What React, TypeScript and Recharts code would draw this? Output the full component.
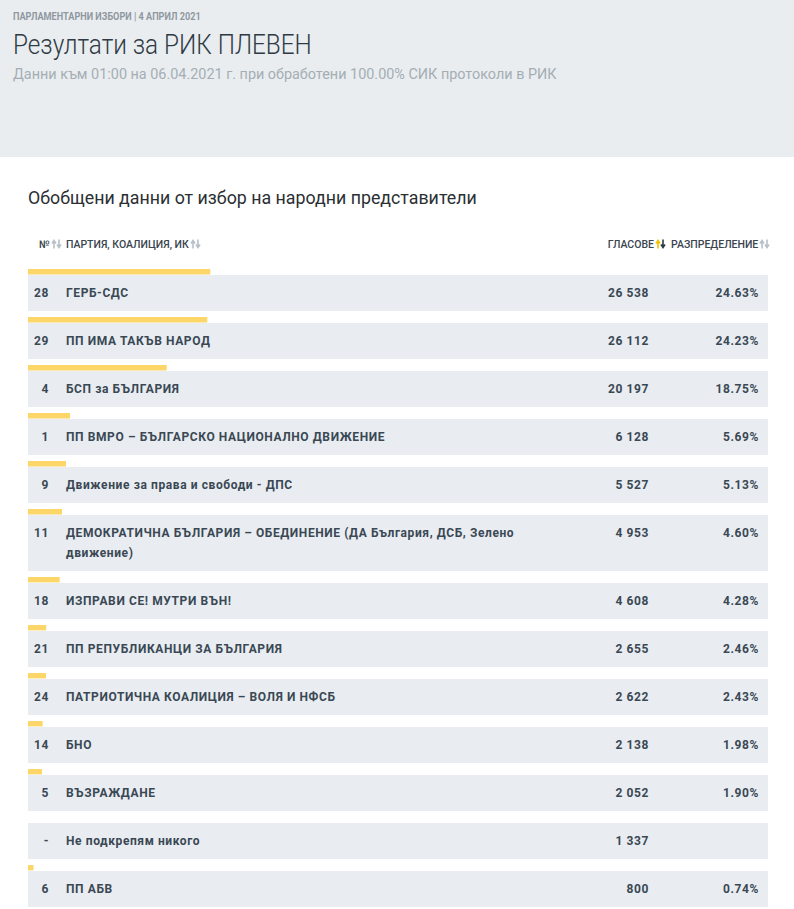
import { BarChart, Bar, XAxis, YAxis } from 'recharts';

const partyNumbers = ['28', '29', '4', '1', '9', '11', '18', '21', '24', '14', '5', '-', '6'];
const partyNames = [
  'ГЕРБ-СДС',
  'ПП ИМА ТАКЪВ НАРОД',
  'БСП за БЪЛГАРИЯ',
  'ПП ВМРО – БЪЛГАРСКО НАЦИОНАЛНО ДВИЖЕНИЕ',
  'Движение за права и свободи - ДПС',
  'ДЕМОКРАТИЧНА БЪЛГАРИЯ – ОБЕДИНЕНИЕ (ДА България, ДСБ, Зелено движение)',
  'ИЗПРАВИ СЕ! МУТРИ ВЪН!',
  'ПП РЕПУБЛИКАНЦИ ЗА БЪЛГАРИЯ',
  'ПАТРИОТИЧНА КОАЛИЦИЯ – ВОЛЯ И НФСБ',
  'БНО',
  'ВЪЗРАЖДАНЕ',
  'Не подкрепям никого',
  'ПП АБВ',
];
const votes = [26538, 26112, 20197, 6128, 5527, 4953, 4608, 2655, 2622, 2138, 2052, 1337, 800];
const shares: (number | null)[] = [24.63, 24.23, 18.75, 5.69, 5.13, 4.6, 4.28, 2.46, 2.43, 1.98, 1.9, null, 0.74];

const YELLOW = '#fcd669';
const BAND = '#e9edf1';
const TEXT = '#3a4854';

const fmtVotes = (n: number) => n.toString().replace(/\B(?=(\d{3})+(?!\d))/g, ' ');

// small sort icon next to a column header
function SortArrows({ active }: { active?: boolean }) {
  const up = active ? '#f2c200' : '#b9c0c7';
  const down = active ? '#2f3a44' : '#b9c0c7';
  return (
    <svg width={11} height={10} style={{ marginLeft: 1, verticalAlign: -1 }}>
      <path d="M3 9.5V2.5M1 4.5L3 1.5L5 4.5" stroke={up} strokeWidth={1.6} fill="none" />
      <path d="M8 0.5V7.5M6 5.5L8 8.5L10 5.5" stroke={down} strokeWidth={1.6} fill="none" />
    </svg>
  );
}

function ShareBar({ name, share }: { name: string; share: number | null }) {
  return (
    <BarChart
      width={740}
      height={6}
      layout="vertical"
      data={[{ name, share }]}
      margin={{ top: 0, right: 0, bottom: 0, left: 0 }}
      style={{ display: 'block' }}
    >
      <XAxis type="number" domain={[0, 100]} hide />
      <YAxis type="category" dataKey="name" hide />
      <Bar dataKey="share" fill={YELLOW} barSize={6} isAnimationActive={false} />
    </BarChart>
  );
}

export default function App() {
  return (
    <div
      style={{
        position: 'relative',
        width: 794,
        height: 909,
        overflow: 'hidden',
        background: '#fff',
        fontFamily: 'Roboto, "Noto Sans", sans-serif',
        color: TEXT,
      }}
    >
      <style>{'body{margin:0}'}</style>

      <div style={{ position: 'absolute', left: 0, top: 0, width: 794, height: 157, background: '#e9edf0' }}>
        <div
          style={{
            position: 'absolute',
            left: 13,
            top: 10,
            fontSize: 11,
            fontWeight: 700,
            color: '#8f989f',
            transform: 'scaleX(0.83)',
            transformOrigin: 'left',
            whiteSpace: 'nowrap',
          }}
        >
          ПАРЛАМЕНТАРНИ ИЗБОРИ | 4 АПРИЛ 2021
        </div>
        <div
          style={{
            position: 'absolute',
            left: 13,
            top: 29,
            fontSize: 27,
            fontWeight: 300,
            color: '#2f3a44',
            transform: 'scaleX(0.9)',
            transformOrigin: 'left',
            whiteSpace: 'nowrap',
          }}
        >
          Резултати за РИК ПЛЕВЕН
        </div>
        <div
          style={{
            position: 'absolute',
            left: 13,
            top: 65,
            fontSize: 15,
            color: '#a5adb4',
            transform: 'scaleX(0.96)',
            transformOrigin: 'left',
            whiteSpace: 'nowrap',
          }}
        >
          Данни към 01:00 на 06.04.2021 г. при обработени 100.00% СИК протоколи в РИК
        </div>
      </div>

      <div style={{ position: 'absolute', left: 28, top: 187, fontSize: 17.8, color: '#2b2f33', whiteSpace: 'nowrap' }}>
        Обобщени данни от избор на народни представители
      </div>

      <div
        style={{
          position: 'absolute',
          top: 238,
          left: 0,
          width: 794,
          fontSize: 10.5,
          fontWeight: 500,
          color: '#3a454f',
          whiteSpace: 'nowrap',
          lineHeight: '14px',
        }}
      >
        <span style={{ position: 'absolute', left: 39 }}>
          №<SortArrows />
        </span>
        <span style={{ position: 'absolute', left: 66 }}>
          ПАРТИЯ, КОАЛИЦИЯ, ИК<SortArrows />
        </span>
        <span style={{ position: 'absolute', right: 794 - 666 }}>
          ГЛАСОВЕ<SortArrows active />
        </span>
        <span style={{ position: 'absolute', left: 671 }}>
          РАЗПРЕДЕЛЕНИЕ<SortArrows />
        </span>
      </div>

      <div style={{ position: 'absolute', left: 28, top: 269, width: 740 }}>
        {partyNames.map((name, i) => (
          <div key={name} style={{ marginBottom: 6 }}>
            <ShareBar name={name} share={shares[i]} />
            <div
              style={{
                display: 'flex',
                alignItems: 'flex-start',
                background: BAND,
                padding: '8px 0',
                fontSize: 12,
                fontWeight: 700,
                lineHeight: '20px',
                letterSpacing: 0.6,
              }}
            >
              <div style={{ width: 21, textAlign: 'right' }}>{partyNumbers[i]}</div>
              <div style={{ width: 17 }} />
              <div style={{ width: 450 }}>{name}</div>
              <div style={{ width: 133, textAlign: 'right' }}>{fmtVotes(votes[i])}</div>
              <div style={{ width: 110, textAlign: 'right' }}>
                {shares[i] != null ? `${(shares[i] as number).toFixed(2)}%` : ''}
              </div>
            </div>
          </div>
        ))}
      </div>
    </div>
  );
}
